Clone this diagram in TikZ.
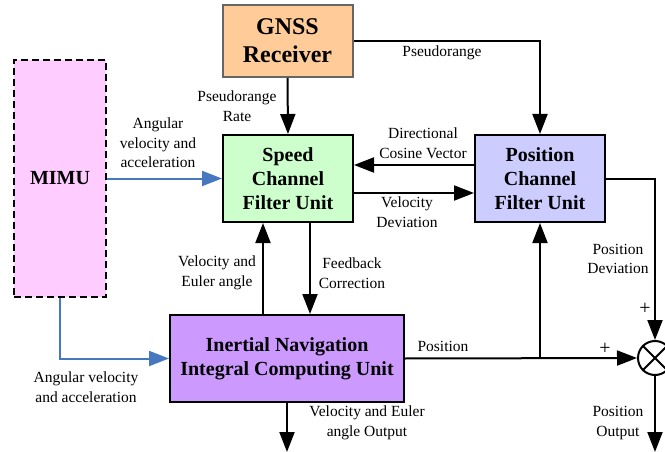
\documentclass[tikz,border=0pt]{standalone}
\usepackage{fontspec}
\setmainfont{Liberation Serif}
\usetikzlibrary{arrows.meta,positioning,calc}
\definecolor{gnssfill}{HTML}{FFCC99}
\definecolor{speedfill}{HTML}{CCFFCC}
\definecolor{posfill}{HTML}{CCCCFF}
\definecolor{insfill}{HTML}{CC99FF}
\definecolor{mimufill}{HTML}{FFCCFF}
\definecolor{bluearr}{HTML}{4677BF}
\begin{document}
\begin{tikzpicture}[x=1pt,y=-1pt,
  box/.style={draw=black,line width=2pt,inner sep=0pt,align=center,
    font=\fontsize{20}{24}\selectfont\bfseries},
  lbl/.style={align=center,inner sep=0pt,font=\fontsize{15.5}{19.5}\selectfont},
  arr/.style={line width=2pt,-{Triangle[length=20pt,width=15pt]}},
  barr/.style={draw=bluearr,line width=2pt,-{Triangle[length=20pt,width=15pt]}},
  ln/.style={line width=2pt}]
\useasboundingbox (0,0) rectangle (665,452);
% boxes
\node[box,fill=gnssfill,draw=gray!80!black,minimum width=130pt,minimum height=72pt,
  font=\fontsize{24}{28}\selectfont\bfseries] (gnss) at (287.5,41) {GNSS\\Receiver};
\node[box,fill=speedfill,minimum width=130pt,minimum height=87pt] (speed) at (288,178.5) {Speed\\Channel\\Filter Unit};
\node[box,fill=posfill,minimum width=130pt,minimum height=87pt] (pos) at (540,178.5) {Position\\Channel\\Filter Unit};
\node[box,fill=insfill,minimum width=234pt,minimum height=87pt] (ins) at (287,358.5) {Inertial Navigation\\Integral Computing Unit};
\node[box,fill=mimufill,line width=1.4pt,dash pattern=on 7pt off 4pt,minimum width=92pt,minimum height=237pt] (mimu) at (60,178.5) {MIMU};
\node[draw,circle,line width=2pt,fill=white,minimum size=34pt,inner sep=0pt] (sum) at (655,358) {};
\draw[line width=2pt] (sum.45) -- (sum.225) (sum.135) -- (sum.315);
% helper coordinates
\coordinate (dc) at (0,165);
\coordinate (vd) at (0,193);
\coordinate (ua) at (263,0);
\coordinate (fb) at (310,0);
\coordinate (o1) at (287,452);
\coordinate (o2) at (655,452);
% connectors
\draw[arr] (gnss.south) -- (speed.north);
\draw[arr] (gnss.east) -| (pos.north);
\draw[arr] (pos.west |- dc) -- (speed.east |- dc);
\draw[arr] (speed.east |- vd) -- (pos.west |- vd);
\draw[barr] (mimu.east) -- (speed.west);
\draw[barr] (mimu.south) |- (ins.west);
\draw[arr] (ins.north -| ua) -- (speed.south -| ua);
\draw[arr] (speed.south -| fb) -- (ins.north -| fb);
\draw[arr] (ins.east) -- (sum.west);
\draw[arr] (pos.south |- ins.east) -- (pos.south);
\draw[arr] (pos.east) -| (sum.north);
\draw[arr] (sum.south) -- (o2);
\draw[arr] (ins.south) -- (o1);
% labels
\node[lbl] (l1) at (237,106) {Pseudorange\\Rate};
\node[lbl] (l2) at (158,143) {Angular\\velocity and\\acceleration};
\node[lbl] (l3) at (442,53) {Pseudorange};
\node[lbl] (l4) at (423,143) {Directional\\Cosine Vector};
\node[lbl] (l5) at (407,212) {Velocity\\Deviation};
\node[lbl] (l6) at (217,273) {Velocity and\\Euler angle};
\node[lbl] (l7) at (352,273) {Feedback\\Correction};
\node[lbl] (l8) at (86,387) {Angular velocity\\and acceleration};
\node[lbl] (l9) at (367,423) {Velocity and Euler\\angle Output};
\node[lbl] (l10) at (443,346) {Position};
\node[lbl] (l11) at (618,259) {Position\\Deviation};
\node[lbl] (l12) at (618,423) {Position\\Output};
\node[lbl,font=\fontsize{20}{24}\selectfont] (p1) at (645,309) {+};
\node[lbl,font=\fontsize{20}{24}\selectfont] (p2) at (605,349) {+};
\end{tikzpicture}
\end{document}
